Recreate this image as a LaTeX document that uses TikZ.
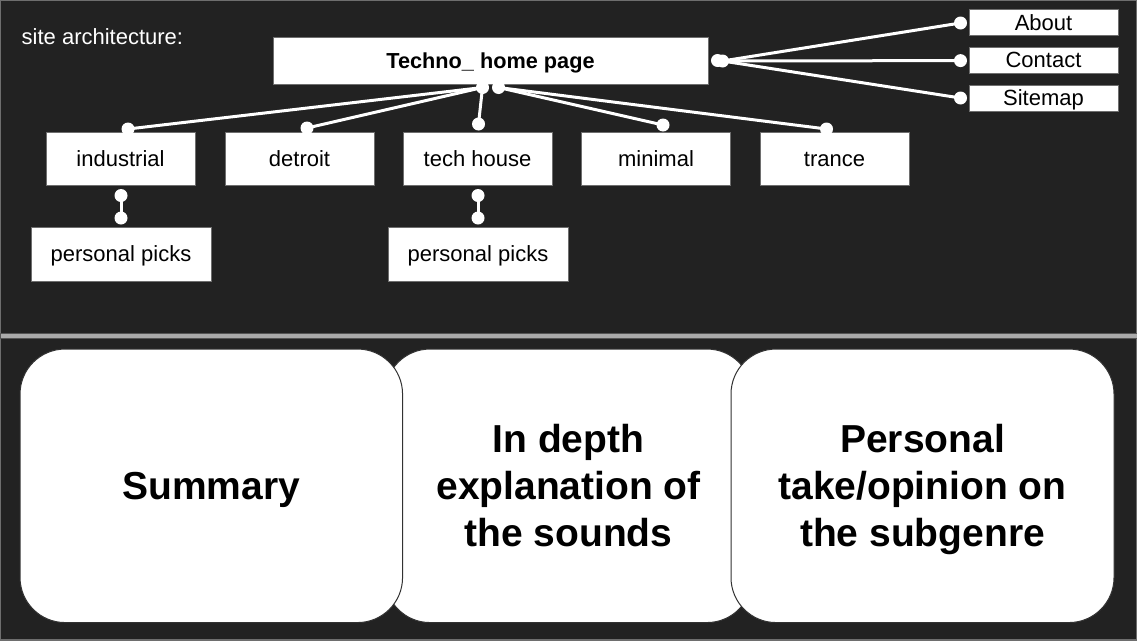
\documentclass[tikz,border=0pt]{standalone}
\usepackage{fontspec}
\setmainfont{Liberation Sans}
\usetikzlibrary{calc}
\definecolor{bgc}{RGB}{34,34,34}
\definecolor{boxedge}{RGB}{110,110,110}
\definecolor{sepfill}{RGB}{170,170,170}
\definecolor{sepedge}{RGB}{85,85,85}
\definecolor{bigedge}{RGB}{50,50,50}
\newcommand{\mybstrut}{\rule[-8.3pt]{0pt}{43.6pt}}
\tikzset{
  smallbox/.style={draw=boxedge, line width=1pt, fill=white, inner sep=0pt,
    text height=19.8pt, text depth=4.6pt,
    font=\fontsize{22}{26}\selectfont, text=black},
  bigbox/.style={draw=bigedge, line width=1pt, fill=white, rounded corners=45pt,
    inner sep=0pt, align=center, font=\fontsize{39}{46.8}\selectfont\bfseries, text=black},
  conn/.style={draw=white, line width=3pt},
  dot/.style={fill=white}
}
\newcommand{\dotat}[1]{\fill[dot] (#1) circle[radius=6.5pt];}
\begin{document}
\begin{tikzpicture}[x=1pt,y=-1pt]
\useasboundingbox (0,0) rectangle (1137,640);
\fill[bgc] (0,0) rectangle (1137,640);
\draw[boxedge, line width=2pt] (0,0) rectangle (1137,640);

\node[text=white, anchor=base west, font=\fontsize{22}{26}\selectfont, inner sep=0pt] (title) at (21.5,44.5) {site architecture:};

% top level
\node[smallbox, minimum width=435pt, minimum height=47pt, font=\fontsize{21.7}{26}\selectfont\bfseries] (home) at (490.5,60.5) {Techno\_ home page};

\node[smallbox, minimum width=149pt, minimum height=26pt] (about) at (1043.5,22.5) {About};
\node[smallbox, minimum width=149pt, minimum height=26pt] (contact) at (1043.5,60.3) {Contact};
\node[smallbox, minimum width=149pt, minimum height=26pt] (sitemap) at (1043.5,98) {Sitemap};

\node[smallbox, minimum width=149pt, minimum height=53pt] (ind) at (120.5,159) {industrial};
\node[smallbox, minimum width=149pt, minimum height=53pt] (det) at (299.5,159) {detroit};
\node[smallbox, minimum width=149pt, minimum height=53pt] (tech) at (477.5,159) {tech house};
\node[smallbox, minimum width=149pt, minimum height=53pt] (mini) at (656,159) {minimal};
\node[smallbox, minimum width=149pt, minimum height=53pt] (tran) at (834.5,159) {trance};

\node[smallbox, minimum width=180pt, minimum height=54pt] (pp1) at (121,254) {personal picks};
\node[smallbox, minimum width=180pt, minimum height=54pt] (pp2) at (478,254) {personal picks};

% connector end points
\coordinate (hs1) at ($(home.south)+(-8,3)$);
\coordinate (hs2) at ($(home.south)+(8,3)$);
\coordinate (he1) at ($(home.east)+(9,0)$);
\coordinate (he2) at ($(home.east)+(14,0.5)$);
\coordinate (abt) at ($(about.west)+(-8,0.5)$);
\coordinate (con) at ($(contact.west)+(-8,0.3)$);
\coordinate (sit) at ($(sitemap.west)+(-8,0)$);
\coordinate (indt) at ($(ind.north)+(7.5,-3)$);
\coordinate (dett) at ($(det.north)+(7.5,-4)$);
\coordinate (techt) at ($(tech.north)+(1,-8)$);
\coordinate (minit) at ($(mini.north)+(7,-7)$);
\coordinate (trant) at ($(tran.north)+(-8,-3)$);
\coordinate (indb) at ($(ind.south)+(0.5,9.5)$);
\coordinate (pp1t) at ($(pp1.north)+(0,-8.5)$);
\coordinate (techb) at ($(tech.south)+(0.5,9.5)$);
\coordinate (pp2t) at ($(pp2.north)+(0,-8.5)$);

% connectors
\draw[conn] (hs1) -- (indt);
\draw[conn] (hs1) -- (dett);
\draw[conn] (hs1) -- (techt);
\draw[conn] (hs2) -- (minit);
\draw[conn] (hs2) -- (trant);
\draw[conn] (he2) -- (abt);
\draw[conn] (he2) -- (con);
\draw[conn] (he2) -- (sit);
\draw[conn] (indb) -- (pp1t);
\draw[conn] (techb) -- (pp2t);

\foreach \p in {hs1,hs2,he1,he2,abt,con,sit,indt,dett,techt,minit,trant,indb,pp1t,techb,pp2t}{\dotat{\p}}

% separator
\draw[sepedge, fill=sepfill, line width=0.8pt] (0,333) rectangle (1137,338.5);

% bottom panels
\node[bigbox, minimum width=367pt, minimum height=273.5pt] (mid) at (568.5,485.8) {\mybstrut In depth\\\mybstrut explanation of\\\mybstrut the sounds};
\node[bigbox, minimum width=382.5pt, minimum height=273.5pt] (sum) at (211.3,485.8) {\mybstrut Summary};
\node[bigbox, minimum width=383pt, minimum height=273.5pt] (pers) at (922.5,485.8) {\mybstrut Personal\\\mybstrut take/opinion on\\\mybstrut the subgenre};
\end{tikzpicture}
\end{document}
